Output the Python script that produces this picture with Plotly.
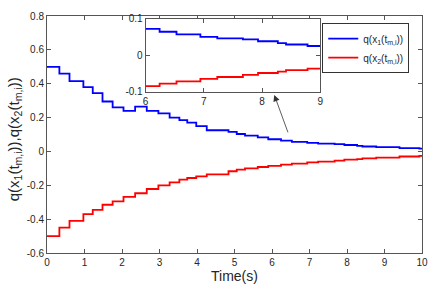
import plotly.graph_objects as go

# step change times (s)
t_steps = [0, 0.33, 0.6, 0.97, 1.22, 1.48, 1.75, 2.04, 2.35, 2.66, 2.97, 3.27, 3.53, 3.74,
           3.98, 4.26, 4.84, 5.06, 5.28, 5.62, 5.9, 6.24, 6.53, 6.94, 7.23, 7.67, 7.93,
           8.27, 8.41, 8.78, 9.4, 9.93, 10]
q1_vals = [0.50, 0.46, 0.415, 0.38, 0.345, 0.295, 0.26, 0.24, 0.265, 0.24, 0.225, 0.20, 0.185,
           0.17, 0.15, 0.125, 0.115, 0.103, 0.093, 0.083, 0.072, 0.064, 0.057, 0.05, 0.046,
           0.043, 0.038, 0.033, 0.029, 0.025, 0.02, 0.016, 0.016]
q2_vals = [-0.5, -0.45, -0.41, -0.37, -0.345, -0.315, -0.295, -0.268, -0.247, -0.222, -0.2,
           -0.183, -0.167, -0.157, -0.147, -0.135, -0.117, -0.107, -0.1, -0.092, -0.085,
           -0.078, -0.072, -0.065, -0.06, -0.054, -0.049, -0.045, -0.041, -0.037, -0.03,
           -0.026, -0.026]

x_ticks = [0, 1, 2, 3, 4, 5, 6, 7, 8, 9, 10]
y_ticks = [-0.6, -0.4, -0.2, 0, 0.2, 0.4, 0.6, 0.8]
y_ticktext = ["-0.6", "-0.4", "-0.2", "0", "0.2", "0.4", "0.6", "0.8"]
inset_x_ticks = [6, 7, 8, 9]
inset_y_ticks = [-0.1, 0, 0.1]
inset_y_ticktext = ["-0.1", "0", "0.1"]

name1 = "q(x<sub>1</sub>(t<sub>m,i</sub>))"
name2 = "q(x<sub>2</sub>(t<sub>m,i</sub>))"

BLUE = "#0000ff"
RED = "#ff0000"
FONT = "Liberation Sans, Arial, sans-serif"

fig = go.Figure()
fig.add_trace(go.Scatter(x=t_steps, y=q1_vals, mode="lines", line=dict(color=BLUE, width=1.8, shape="hv"),
                         name=name1, xaxis="x", yaxis="y"))
fig.add_trace(go.Scatter(x=t_steps, y=q2_vals, mode="lines", line=dict(color=RED, width=1.8, shape="hv"),
                         name=name2, xaxis="x", yaxis="y"))
fig.add_trace(go.Scatter(x=t_steps, y=q1_vals, mode="lines", line=dict(color=BLUE, width=1.8, shape="hv"),
                         showlegend=False, xaxis="x2", yaxis="y2"))
fig.add_trace(go.Scatter(x=t_steps, y=q2_vals, mode="lines", line=dict(color=RED, width=1.8, shape="hv"),
                         showlegend=False, xaxis="x2", yaxis="y2"))

axis_common = dict(showgrid=False, zeroline=False, showline=True, linecolor="#555", linewidth=1,
                   mirror="ticks", ticks="inside", ticklen=4, tickcolor="#555",
                   tickfont=dict(size=10, color="#262626", family=FONT))

fig.update_layout(
    width=438, height=289,
    margin=dict(l=47, r=15, t=10, b=36),
    paper_bgcolor="white", plot_bgcolor="white",
    font=dict(family=FONT, color="#262626"),
    xaxis=dict(range=[0, 10], tickvals=x_ticks, domain=[0, 1], **axis_common),
    yaxis=dict(range=[-0.6, 0.8], tickvals=y_ticks, ticktext=y_ticktext, domain=[0, 1], **axis_common),
    xaxis2=dict(range=[6, 9], tickvals=inset_x_ticks, domain=[0.263, 0.729], anchor="y2", **axis_common),
    yaxis2=dict(range=[-0.1, 0.1], tickvals=inset_y_ticks, ticktext=inset_y_ticktext,
                domain=[0.681, 0.989], anchor="x2", **axis_common),
    showlegend=True,
    legend=dict(x=0.734, y=0.97, xanchor="left", yanchor="top", bgcolor="white",
                bordercolor="#333", borderwidth=1, font=dict(size=10, color="#262626", family=FONT),
                itemwidth=30, tracegroupgap=0),
    annotations=[
        dict(text=name1 + "," + name2, xref="paper", yref="paper", x=-0.088, y=0.48,
             textangle=-90, showarrow=False, font=dict(size=15, color="#262626", family=FONT),
             xanchor="center", yanchor="middle"),
        dict(text="Time(s)", xref="paper", yref="paper", x=0.5, y=-0.097, showarrow=False,
             font=dict(size=14, color="#262626", family=FONT), xanchor="center", yanchor="middle"),
        dict(x=6.06, y=0.334, ax=6.44, ay=0.104, xref="x", yref="y", axref="x", ayref="y",
             text="", showarrow=True, arrowhead=2, arrowsize=1.6, arrowwidth=0.8, arrowcolor="#333"),
    ],
)

fig.write_html("out.html", config={"displayModeBar": False},
               post_script="document.body.style.margin='0';")
